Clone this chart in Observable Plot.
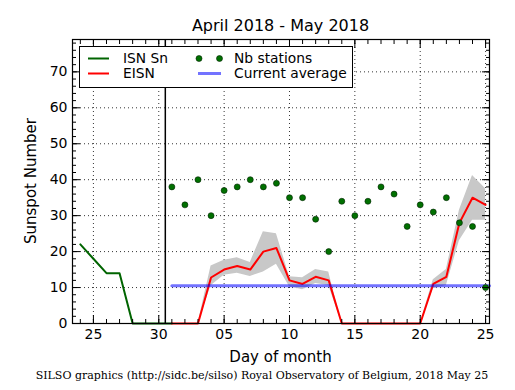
<!DOCTYPE html>
<html><head><meta charset="utf-8">
<script src="https://cdn.jsdelivr.net/npm/d3@7"></script>
<script src="https://cdn.jsdelivr.net/npm/@observablehq/plot@0.6"></script>
<style>
body{margin:0;background:#fff}
svg{font-family:"DejaVu Sans",sans-serif}
</style>
</head><body><div id="chart"></div>
<script>
// ---- data ----
const aprilDays = [24, 25, 26, 27, 28, 29, 30, 31];          // 31 = May 1 (continuation, hidden under EISN)
const isnValues = [22, 18, 14, 14, 0, 0, 0, 0];
const mayDays = [1,2,3,4,5,6,7,8,9,10,11,12,13,14,15,16,17,18,19,20,21,22,23,24,25];
const eisnValues = [0,0,0,12.8,15,16,15,20,21,12,11,13,12,0,0,0,0,0,0,0,11,13,28,35,33];
const eisnLow    = [0,0,0,10.5,13.4,14,13.1,14.3,16.5,10.2,9.4,11.1,10.6,0,0,0,0,0,0,0,9.7,10.6,23,28.7,28.7];
const eisnHigh   = [0,0,0,16,17.6,18.3,17,25.5,25,13,12.7,15,14.3,0,0,0,0,0,0,0,12.2,15,31.5,41.2,37.5];
const nbStations = [38,33,40,30,37,38,40,38,39,35,35,29,20,34,30,34,38,36,27,33,31,35,28,27,10];
const currentAverage = 10.5;
const monthBoundary = 30.5;
const xDomain = [23.4, 55.3];
const yDomain = [0, 79];
const xMajorTicks = [25, 30, 35, 40, 45, 50, 55];
const xTickLabels = ["25", "30", "05", "10", "15", "20", "25"];
const yMajorTicks = [0, 10, 20, 30, 40, 50, 60, 70];

// ---- derived tables ----
const mayX = d => 30 + d;
const isn = aprilDays.map((d, i) => ({x: d, v: isnValues[i]}));
const eisn = mayDays.map((d, i) => ({x: mayX(d), v: eisnValues[i], lo: eisnLow[i], hi: eisnHigh[i], n: nbStations[i]}));
const avg = [{x: mayX(mayDays[0]), v: currentAverage}, {x: xDomain[1], v: currentAverage}];
const xMinor = d3.range(24, 56);
const yMinor = d3.range(0, 79, 2);
const labelOf = new Map(xMajorTicks.map((t, i) => [t, xTickLabels[i]]));

const W = 515, H = 390;
const M = {top: 39, right: 26, bottom: 67, left: 72};

const chart = Plot.plot({
  width: W, height: H,
  marginTop: M.top, marginRight: M.right, marginBottom: M.bottom, marginLeft: M.left,
  style: {fontFamily: "DejaVu Sans", fontSize: "14px", color: "black", background: "white"},
  x: {domain: xDomain, label: null},
  y: {domain: yDomain, label: null},
  marks: [
    Plot.gridX(xMajorTicks, {stroke: "black", strokeOpacity: 1, strokeWidth: 0.8, strokeDasharray: "1,3"}),
    Plot.gridY(yMajorTicks, {stroke: "black", strokeOpacity: 1, strokeWidth: 0.8, strokeDasharray: "1,3"}),
    Plot.areaY(eisn, {x: "x", y1: "lo", y2: "hi", fill: "#c8c8c8", fillOpacity: 1}),
    Plot.line(isn, {x: "x", y: "v", stroke: "#006400", strokeWidth: 2}),
    Plot.line(eisn, {x: "x", y: "v", stroke: "#ff0000", strokeWidth: 2}),
    Plot.line(avg, {x: "x", y: "v", stroke: "blue", strokeOpacity: 0.55, strokeWidth: 3}),
    Plot.dot(eisn, {x: "x", y: "n", r: 3, fill: "#007000", stroke: "#002000", strokeWidth: 0.6}),
    Plot.ruleX([monthBoundary], {stroke: "black", strokeWidth: 1.5}),
    Plot.frame({stroke: "black", strokeWidth: 1.2}),
    // inward ticks
    Plot.axisX(xMinor, {anchor: "bottom", tickSize: -4, tickFormat: () => "", label: null}),
    Plot.axisX(xMinor, {anchor: "top", tickSize: -4, tickFormat: () => "", label: null}),
    Plot.axisX(xMajorTicks, {anchor: "bottom", tickSize: -8, tickFormat: () => "", label: null}),
    Plot.axisX(xMajorTicks, {anchor: "top", tickSize: -8, tickFormat: () => "", label: null}),
    Plot.axisY(yMinor, {anchor: "left", tickSize: -4, tickFormat: () => "", label: null}),
    Plot.axisY(yMinor, {anchor: "right", tickSize: -4, tickFormat: () => "", label: null}),
    Plot.axisY(yMajorTicks, {anchor: "left", tickSize: -8, tickFormat: () => "", label: null}),
    Plot.axisY(yMajorTicks, {anchor: "right", tickSize: -8, tickFormat: () => "", label: null}),
    // tick labels
    Plot.axisX(xMajorTicks, {anchor: "bottom", tickSize: 0, tickPadding: 6, tickFormat: d => labelOf.get(d), fontSize: 14, label: null}),
    Plot.axisY(yMajorTicks, {anchor: "left", tickSize: 0, tickPadding: 5, fontSize: 14, label: null})
  ]
});

const svg = d3.select(chart);
const cx = M.left + (W - M.left - M.right) / 2;
const cy = M.top + (H - M.top - M.bottom) / 2;

svg.append("text").attr("x", cx).attr("y", 31).attr("text-anchor", "middle")
  .attr("font-size", 16).attr("fill", "black").text("April 2018 - May 2018");
svg.append("text").attr("x", cx).attr("y", 362).attr("text-anchor", "middle")
  .attr("font-size", 15).attr("fill", "black").text("Day of month");
svg.append("text").attr("transform", `translate(36,${cy}) rotate(-90)`).attr("text-anchor", "middle")
  .attr("font-size", 15).attr("fill", "black").text("Sunspot Number");
svg.append("text").attr("x", 262).attr("y", 379).attr("text-anchor", "middle")
  .attr("font-family", "DejaVu Serif").attr("font-size", 11).attr("fill", "black")
  .text("SILSO graphics (http://sidc.be/silso) Royal Observatory of Belgium, 2018 May 25");

// legend
const lg = svg.append("g").attr("font-size", 13.8).attr("text-anchor", "start").attr("fill", "black");
lg.append("rect").attr("x", 79.5).attr("y", 46.5).attr("width", 273).attr("height", 41)
  .attr("fill", "white").attr("stroke", "black").attr("stroke-width", 1);
const row1 = 58.5, row2 = 73.5;
lg.append("line").attr("x1", 88).attr("x2", 109).attr("y1", row1).attr("y2", row1).attr("stroke", "#006400").attr("stroke-width", 2);
lg.append("text").attr("x", 123).attr("y", row1).attr("dy", "0.35em").attr("text-anchor", "start").text("ISN Sn");
lg.append("line").attr("x1", 88).attr("x2", 109).attr("y1", row2).attr("y2", row2).attr("stroke", "#ff0000").attr("stroke-width", 2);
lg.append("text").attr("x", 123).attr("y", row2).attr("dy", "0.35em").attr("text-anchor", "start").text("EISN");
[199, 219.5].forEach(px => lg.append("circle").attr("cx", px).attr("cy", row1).attr("r", 3)
  .attr("fill", "#007000").attr("stroke", "#002000").attr("stroke-width", 0.6));
lg.append("text").attr("x", 234).attr("y", row1).attr("dy", "0.35em").attr("text-anchor", "start").text("Nb stations");
lg.append("line").attr("x1", 198).attr("x2", 221).attr("y1", row2).attr("y2", row2).attr("stroke", "blue").attr("stroke-opacity", 0.55).attr("stroke-width", 3);
lg.append("text").attr("x", 234).attr("y", row2).attr("dy", "0.35em").attr("text-anchor", "start").text("Current average");

document.getElementById("chart").appendChild(chart);
</script>
</body></html>
